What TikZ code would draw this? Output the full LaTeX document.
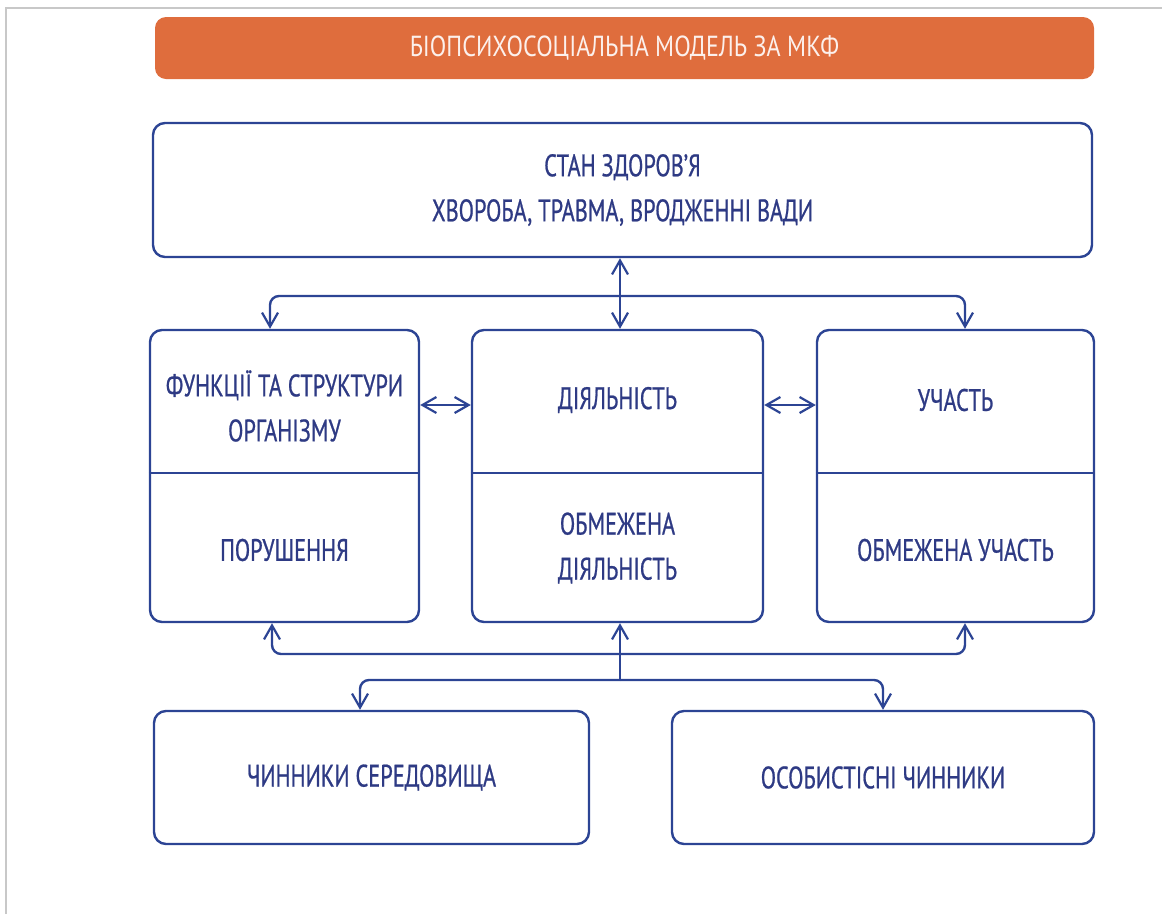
\documentclass[tikz,border=0pt]{standalone}
\usepackage{fontspec}
\setmainfont{PT Sans}[FakeStretch=0.72,FakeBold=0.7]
\newfontfamily\titlefont{PT Sans}[FakeStretch=0.83]
\usetikzlibrary{arrows.meta}
\definecolor{lineblue}{RGB}{44,68,148}
\definecolor{txtblue}{RGB}{46,58,132}
\definecolor{banner}{RGB}{223,109,61}
\definecolor{frame}{RGB}{200,200,200}
\begin{document}
\begin{tikzpicture}[x=1pt,y=-1pt,
  box/.style={draw=lineblue,line width=2.4pt,rounded corners=12pt,fill=white,inner sep=0pt},
  lbl/.style={text=txtblue,font=\fontsize{31}{45}\selectfont,align=center},
  conn/.style={draw=lineblue,line width=2.4pt,rounded corners=9pt},
  tip/.style={-{Straight Barb[length=14pt,width=16pt,line width=2.2pt]}},
  dtip/.style={{Straight Barb[length=14pt,width=16pt,line width=2.2pt]}-{Straight Barb[length=14pt,width=16pt,line width=2.2pt]}}]
\path[use as bounding box] (0,0) rectangle (1162,914);
\draw[frame,line width=1.2pt] (6,914) -- (6,8) -- (1162,8);
% banner
\node (ban) [fill=banner,rounded corners=11pt,minimum width=939pt,minimum height=62pt,inner sep=0pt,
  text=white!90!banner,font=\titlefont\fontsize{29}{34}\selectfont] at (624.5,48) {БІОПСИХОСОЦІАЛЬНА МОДЕЛЬ ЗА МКФ};
% boxes
\node (top) [box,minimum width=939pt,minimum height=134pt] at (622.5,190) {};
\node [lbl] at (top.center) {СТАН ЗДОРОВ’Я\\ХВОРОБА, ТРАВМА, ВРОДЖЕННІ ВАДИ};
\node (f) [box,minimum width=269pt,minimum height=292pt] at (284.5,476) {};
\node (d) [box,minimum width=291pt,minimum height=292pt] at (617.5,476) {};
\node (u) [box,minimum width=277pt,minimum height=292pt] at (955.5,476) {};
\node (env) [box,minimum width=435pt,minimum height=133pt] at (371.5,777.5) {};
\node (pers) [box,minimum width=422pt,minimum height=133pt] at (883,777.5) {};
% dividers
\draw[lineblue,line width=2.4pt] ([yshift=3pt]f.west) -- ([yshift=3pt]f.east);
\draw[lineblue,line width=2.4pt] ([yshift=3pt]d.west) -- ([yshift=3pt]d.east);
\draw[lineblue,line width=2.4pt] ([yshift=3pt]u.west) -- ([yshift=3pt]u.east);
% labels
\node (ft) [lbl] at (284.5,406) {ФУНКЦІЇ ТА СТРУКТУРИ\\ОРГАНІЗМУ};
\node (fb) [lbl] at (284.5,550) {ПОРУШЕННЯ};
\node (dt) [lbl] at (617.5,400) {ДІЯЛЬНІСТЬ};
\node (db) [lbl] at (617.5,548) {ОБМЕЖЕНА\\ДІЯЛЬНІСТЬ};
\node (ut) [lbl] at (955.5,400) {УЧАСТЬ};
\node (ub) [lbl] at (955.5,550) {ОБМЕЖЕНА УЧАСТЬ};
\node (et) [lbl] at (env.center) {ЧИННИКИ СЕРЕДОВИЩА};
\node (pt) [lbl] at (pers.center) {ОСОБИСТІСНІ ЧИННИКИ};
% connectors
\coordinate (jt) at (620,296);
\coordinate (jb) at (620,654);
\coordinate (jl) at (620,680);
\draw[conn,dtip] (top.south -| jt) -- (d.north -| jt);
\draw[conn,tip] (jt) -| ([xshift=-14.5pt]f.north);
\draw[conn,tip] (jt) -| ([xshift=9.5pt]u.north);
\draw[conn,dtip] ([yshift=71pt]f.east) -- ([yshift=71pt]d.west);
\draw[conn,dtip] ([yshift=71pt]d.east) -- ([yshift=71pt]u.west);
\draw[conn,tip] (jl) -- (d.south -| jl);
\draw[conn,tip] (jb) -| ([xshift=-12.5pt]f.south);
\draw[conn,tip] (jb) -| ([xshift=9.5pt]u.south);
\draw[conn,tip] (jl) -| ([xshift=-11.5pt]env.north);
\draw[conn,tip] (jl) -| (pers.north);
\end{tikzpicture}
\end{document}
